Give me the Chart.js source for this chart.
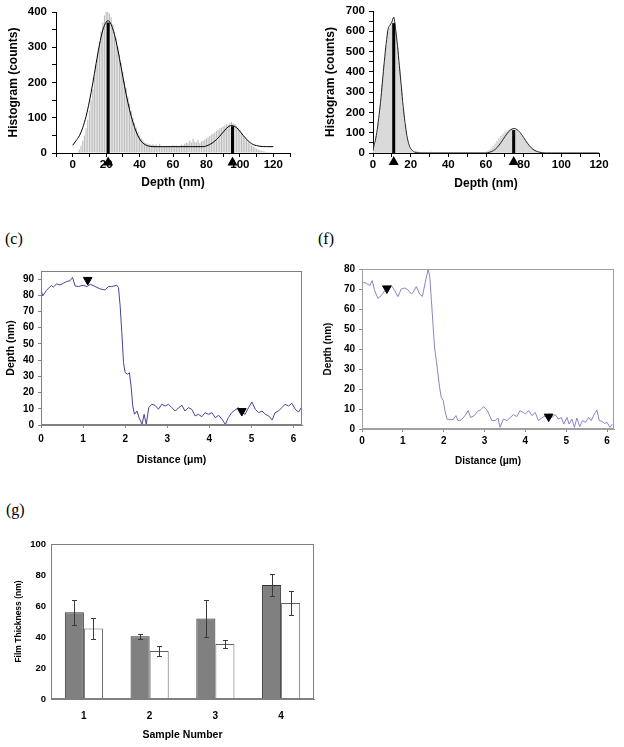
<!DOCTYPE html>
<html><head><meta charset="utf-8">
<script src="https://cdn.jsdelivr.net/npm/chart.js@4.4.0/dist/chart.umd.min.js"></script>
<style>
html,body{margin:0;padding:0;background:#fff;}
body{width:624px;height:747px;position:relative;overflow:hidden;}
.panel{position:absolute;}
.lbl{position:absolute;font-family:"Liberation Serif","DejaVu Serif",serif;font-size:16px;line-height:16px;color:#000;}
</style></head><body>
<div class="panel" style="left:0;top:0;width:312px;height:200px"><canvas id="ca"></canvas></div>
<div class="panel" style="left:312px;top:0;width:312px;height:200px"><canvas id="cb"></canvas></div>
<div class="lbl" style="left:5px;top:231px">(c)</div>
<div class="panel" style="left:0;top:230px;width:312px;height:240px"><canvas id="cc"></canvas></div>
<div class="lbl" style="left:318px;top:231px">(f)</div>
<div class="panel" style="left:312px;top:230px;width:312px;height:240px"><canvas id="cf"></canvas></div>
<div class="lbl" style="left:6px;top:502px">(g)</div>
<div class="panel" style="left:0;top:500px;width:340px;height:247px"><canvas id="cg"></canvas></div>
<script>
// ---------------- DATA ----------------
// Panel (a): histogram, 1 nm bins starting at 0 nm
const histAStart = 0, histABin = 1;
const histACounts = [0,0,0,2,10,20,35,50,70,95,120,150,180,215,250,285,315,345,370,390,400,405,395,385,365,345,325,300,280,255,230,205,185,160,140,120,100,85,72,60,50,42,36,30,28,26,24,22,25,21,24,20,26,19,18,20,17,19,18,20,22,19,21,18,20,24,22,26,30,28,35,30,40,32,30,36,28,33,35,38,42,45,48,52,55,58,62,66,70,72,75,78,82,80,85,88,84,82,78,72,66,58,50,44,38,32,27,22,18,15,12,10,8,6,5,4,3,2,2,1,0];
const fitAx = [0,2,4,6,8,10,12,14,16,18,20,21,22,24,26,28,30,32,34,36,38,40,42,44,46,50,60,70,78,80,82,84,86,88,90,92,94,95,96,98,100,102,104,106,108,110,112,116,120];
const fitAy = [22,35,49,72,104,147,198,254,307,349,371,375,373,352,316,268,216,166,123,88,60,40,28,22,19,18,18,18,18,20,24,30,38,48,59,70,77,78,77,72,62,50,39,30,24,21,19,18,18];
const peaksA = [21.2, 95.6];
const peakHeightsA = [370, 76];

// Panel (b): histogram, 1 nm bins starting at 0 nm
const histBStart = 0, histBBin = 1;
const histBCounts = [10,40,85,150,235,335,435,525,595,615,630,645,595,515,415,315,215,135,75,38,16,8,4,9,5,3,2,4,1,3,2,5,1,2,3,1,2,4,1,2,3,1,2,1,3,1,2,1,0,2,1,3,1,0,2,1,1,2,0,2,4,8,14,22,32,45,58,70,82,92,100,108,114,118,120,118,112,104,94,82,70,58,46,35,26,18,12,7,4,2,1,0,0,1,0,0,0,0,1,0,0,0,0,0,0,0,0,0,0,0,0,0,0,0,0,0,0,0,0,0,0];
const fitBx = [0,1,2,3,4,5,6,7,8,9,10,11,12,13,14,15,16,17,18,19,20,21,22,24,26,60,62,64,66,68,70,72,74,75,76,78,80,82,84,86,88,90,92,120];
const fitBy = [20,52,100,170,250,350,450,540,610,630,645,670,610,530,430,330,230,150,85,45,22,12,5,1,0,0,4,12,28,52,80,105,119,121,118,102,76,48,26,12,5,1,0,0];
const peaksB = [11.0, 74.7];
const peakHeightsB = [640, 113];

// Panel (c): line profile
const distC = [0,0.04,0.13,0.2,0.25,0.29,0.37,0.45,0.53,0.61,0.69,0.75,0.81,0.89,1.0,1.09,1.17,1.29,1.4,1.52,1.6,1.68,1.8,1.84,1.88,1.92,1.96,2.0,2.06,2.1,2.14,2.18,2.22,2.28,2.33,2.4,2.45,2.5,2.56,2.63,2.71,2.79,2.87,2.95,3.03,3.11,3.19,3.27,3.35,3.42,3.5,3.58,3.66,3.74,3.82,3.9,3.98,4.06,4.14,4.22,4.3,4.38,4.45,4.53,4.61,4.69,4.77,4.85,4.93,5.01,5.09,5.17,5.25,5.33,5.41,5.49,5.56,5.64,5.72,5.8,5.88,5.96,6.04,6.12,6.18];
const depthC = [83.7,79.6,83,85,86,85,87,86.4,87.4,88.5,89,91,85.8,85.4,86.2,85.4,86.8,85.4,84,83.3,85.4,85.4,86.2,84.8,73.5,57,38.5,32.3,31.3,32.3,24,11.7,6.6,8.6,4.5,0.4,6.6,0.4,10.7,12.8,12.1,9.7,12.8,11.7,12.8,10.7,8.6,10.7,12.1,8.6,10.7,9.7,5.6,6.6,5.1,7.6,6.6,7.6,4.5,6.0,3.5,0.4,4.5,7.6,9.3,10.7,7.6,6.6,10.7,14.2,9.7,7.6,8.6,6.6,5.6,3.1,7.6,8.6,10.7,12.8,11.7,13.4,9.7,8.0,10.7];
const markDistC = [1.11, 4.77];
const markDepthC = [89.5, 8.6];

// Panel (f): line profile
const distF = [0,0.1,0.19,0.25,0.31,0.39,0.47,0.56,0.64,0.72,0.8,0.88,0.96,1.05,1.13,1.21,1.25,1.33,1.41,1.48,1.54,1.62,1.66,1.7,1.74,1.78,1.82,1.86,1.9,1.94,1.99,2.03,2.08,2.15,2.23,2.3,2.35,2.43,2.52,2.6,2.66,2.75,2.83,2.91,2.98,3.07,3.18,3.26,3.33,3.38,3.46,3.55,3.63,3.71,3.79,3.87,3.95,4.0,4.08,4.16,4.24,4.32,4.4,4.49,4.57,4.65,4.73,4.81,4.88,4.94,5.02,5.07,5.14,5.2,5.26,5.33,5.4,5.47,5.55,5.61,5.69,5.75,5.81,5.88,5.94,6.0,6.07,6.13];
const depthF = [73.3,73,71.7,74.2,69.2,65.3,66.7,69.2,70.5,71.7,69.2,66.2,70,70.5,69.5,67.5,68.3,71.2,67.5,66.3,72.5,80,75.8,64.2,51.7,40,34.2,27.5,20.8,15.8,14.2,9.2,5,4.7,4.7,6.7,4.2,4.5,6.7,9.2,5.8,6.7,8.8,9.7,11.2,9.2,4.2,4.2,5.5,0.8,5,4.2,5.8,7.2,6.2,9.2,8.3,7.5,9.2,6.7,8.3,4.2,5.5,6.7,5.8,5.8,7.2,5,5.8,2.5,5.8,2.5,5,0.8,5.5,1.2,4.2,3.3,5.8,4.2,7.5,9.5,4.2,3.8,2.8,3.3,0.8,2.5];
const markDistF = [0.61, 4.57];
const markDepthF = [70.3, 6.2];

// Panel (g): film thickness
const samples = ['1','2','3','4'];
const thickGray = [56, 40.5, 52, 73.5];
const errGray = [8, 1.5, 12, 7];
const thickWhite = [45.5, 31, 35.5, 62];
const errWhite = [6.5, 3.5, 2.5, 7.5];

// ---------------- RENDER ----------------
Chart.defaults.font.family = '"Liberation Sans", Arial, sans-serif';
Chart.defaults.color = '#000';
Chart.defaults.animation = false;

const boxPlugin = {
  id: 'box',
  afterDatasetsDraw(chart, args, opts) {
    if (!opts || !opts.color) return;
    const a = chart.chartArea, ctx = chart.ctx;
    ctx.save();
    ctx.strokeStyle = opts.color; ctx.lineWidth = 1;
    ctx.strokeRect(Math.round(a.left) + 0.5, Math.round(a.top) + 0.5, Math.round(a.right - a.left) - 1, Math.round(a.bottom - a.top) - 1);
    ctx.restore();
  }
};
// peak markers below the axis (outside the chart area), placed via the chart's scales
const triPlugin = {
  id: 'tri',
  afterDraw(chart, args, opts) {
    if (!opts || !opts.xs) return;
    const ctx = chart.ctx, xS = chart.scales.x, yS = chart.scales.y;
    ctx.save(); ctx.fillStyle = '#000';
    opts.xs.forEach(v => {
      const x = xS.getPixelForValue(v), y = yS.getPixelForValue(opts.y);
      ctx.beginPath();
      ctx.moveTo(x, y - 5); ctx.lineTo(x + 5, y + 4); ctx.lineTo(x - 5, y + 4); ctx.closePath();
      ctx.fill();
    });
    ctx.restore();
  }
};
const errPlugin = {
  id: 'errbars',
  afterDatasetsDraw(chart) {
    const ctx = chart.ctx, yS = chart.scales.y;
    chart.data.datasets.forEach((ds, di) => {
      if (!ds.errors) return;
      const meta = chart.getDatasetMeta(di);
      meta.data.forEach((bar, i) => {
        const v = ds.data[i], e = ds.errors[i];
        const yt = Math.round(yS.getPixelForValue(v + e)) + 0.5, yb = Math.round(yS.getPixelForValue(v - e)) + 0.5;
        const x = Math.round(bar.x) + 0.5;
        ctx.save(); ctx.strokeStyle = '#3a3a3a'; ctx.lineWidth = 1;
        ctx.beginPath();
        ctx.moveTo(x, yt); ctx.lineTo(x, yb);
        ctx.moveTo(x - 2.5, yt); ctx.lineTo(x + 2.5, yt);
        ctx.moveTo(x - 2.5, yb); ctx.lineTo(x + 2.5, yb);
        ctx.stroke(); ctx.restore();
      });
    });
  }
};

function histChart(id, cfg) {
  const ds = [];
  ds.push({ type: 'bar', data: cfg.counts.map((c, i) => ({ x: cfg.start + i * cfg.bin, y: c })),
    backgroundColor: cfg.barColor, borderWidth: 0, barPercentage: cfg.barPct, categoryPercentage: 1, order: 5 });
  ds.push({ type: 'line', data: cfg.fitX.map((x, i) => ({ x, y: cfg.fitY[i] })), borderColor: cfg.fitColor,
    borderWidth: 1, pointRadius: 0, cubicInterpolationMode: 'monotone', order: 4 });
  cfg.peaks.forEach((p, k) => {
    ds.push({ type: 'line', data: [{ x: p, y: 0 }, { x: p, y: cfg.peakH[k] }], borderColor: '#000', borderWidth: 3,
      pointRadius: 0, order: 3 });
  });
  return new Chart(id, {
    type: 'bar',
    data: { datasets: ds },
    options: {
      responsive: true, maintainAspectRatio: false,
      layout: { padding: cfg.pad },
      plugins: { legend: { display: false }, tooltip: { enabled: false }, tri: { xs: cfg.peaks, y: cfg.triY } },
      scales: {
        x: { type: 'linear', min: cfg.xMin, max: cfg.xMax, offset: false,
          afterFit: s => { s.height = 40; },
          grid: { drawOnChartArea: false, drawTicks: true, tickLength: 4, color: '#000', offset: false },
          border: { color: '#000', width: 1 },
          ticks: { stepSize: 10, autoSkip: false, maxRotation: 0, padding: 1, color: '#000',
            font: { size: 11.5, weight: 'bold' },
            callback: v => (v >= 0 && v <= 120 && v % 20 === 0) ? String(v) : '' },
          title: { display: true, text: 'Depth (nm)', color: '#000', font: { size: 12, weight: 'bold' },
            padding: { top: 0, bottom: cfg.xTitlePad } } },
        y: { min: 0, max: cfg.yMax,
          afterFit: s => { s.width = cfg.yW; },
          grid: { drawOnChartArea: false, drawTicks: true, tickLength: 4, color: '#000' },
          border: { color: '#000', width: 1 },
          ticks: { stepSize: 50, autoSkip: false, padding: cfg.yTickPad, color: '#000', font: { size: 11.5, weight: 'bold' },
            callback: v => (v % 100 === 0) ? String(v) : '' },
          title: { display: true, text: 'Histogram (counts)', color: '#000', font: { size: 12, weight: 'bold' },
            padding: { top: cfg.yTitlePad, bottom: 0 } } }
      }
    },
    plugins: [triPlugin]
  });
}

histChart('ca', { counts: histACounts, start: histAStart, bin: histABin, barColor: '#bdbdbd', barPct: 0.7,
  fitX: fitAx, fitY: fitAy, fitColor: '#000', peaks: peaksA, peakH: peakHeightsA, triY: -24,
  pad: { left: 0, top: 12, right: 22, bottom: 7 }, xMin: -10, xMax: 130, yMax: 400, yW: 56,
  xTitlePad: 3, yTitlePad: 6, yTickPad: 5 });

histChart('cb', { counts: histBCounts, start: histBStart, bin: histBBin, barColor: '#dadada', barPct: 1,
  fitX: fitBx, fitY: fitBy, fitColor: '#222', peaks: peaksB, peakH: peakHeightsB, triY: -40,
  pad: { left: 0, top: 11, right: 25, bottom: 7 }, xMin: 0, xMax: 120, yMax: 700, yW: 61,
  xTitlePad: 2, yTitlePad: 11, yTickPad: 4 });

function profileChart(id, cfg) {
  return new Chart(id, {
    type: 'line',
    data: { datasets: [
      { data: cfg.x.map((x, i) => ({ x, y: cfg.y[i] })), borderColor: cfg.lineColor, borderWidth: 1, pointRadius: 0, tension: 0, order: 2 },
      { showLine: false, data: cfg.mx.map((x, i) => ({ x, y: cfg.my[i] })), pointStyle: 'triangle', rotation: 180,
        pointRadius: 5, pointBackgroundColor: '#000', pointBorderColor: '#000', clip: false, order: 1 }
    ] },
    options: {
      responsive: true, maintainAspectRatio: false,
      layout: { padding: cfg.pad },
      plugins: { legend: { display: false }, tooltip: { enabled: false }, box: { color: cfg.boxColor } },
      scales: {
        x: { type: 'linear', min: 0, max: cfg.xMax,
          afterFit: s => { s.height = cfg.xH; },
          grid: { drawOnChartArea: false, drawTicks: true, tickLength: 3, color: '#888' },
          border: { color: cfg.boxColor, width: 1 },
          ticks: { stepSize: 1, includeBounds: false, autoSkip: false, maxRotation: 0, padding: cfg.xTickPad,
            font: { size: 10, weight: 'bold' }, color: '#000' },
          title: { display: true, text: 'Distance (μm)', color: '#000', font: { size: cfg.titleSize, weight: 'bold' },
            padding: { top: 0, bottom: cfg.xTitlePad } } },
        y: { min: 0, max: cfg.yMax,
          afterFit: s => { s.width = cfg.yW; },
          grid: { drawOnChartArea: false, drawTicks: true, tickLength: 3, color: '#888' },
          border: { color: cfg.boxColor, width: 1 },
          ticks: { stepSize: 10, includeBounds: false, autoSkip: false, padding: cfg.yTickPad,
            font: { size: 10, weight: 'bold' }, color: '#000' },
          title: { display: true, text: 'Depth (nm)', color: '#000', font: { size: cfg.titleSize, weight: 'bold' },
            padding: { top: cfg.yTitlePad, bottom: 0 } } }
      }
    },
    plugins: [boxPlugin]
  });
}

profileChart('cc', { x: distC, y: depthC, mx: markDistC, my: markDepthC, lineColor: '#45459a', boxColor: '#808080',
  pad: { left: 0, top: 41, right: 10, bottom: 0 }, xH: 45, yW: 41, xMax: 6.2, yMax: 95,
  xTickPad: 5, yTickPad: 4, xTitlePad: 4, yTitlePad: 5, titleSize: 10.5 });

profileChart('cf', { x: distF, y: depthF, mx: markDistF, my: markDepthF, lineColor: '#8787c4', boxColor: '#a0a0a0',
  pad: { left: 0, top: 39, right: 10, bottom: 0 }, xH: 41, yW: 50, xMax: 6.17, yMax: 80,
  xTickPad: 3, yTickPad: 4, xTitlePad: 3, yTitlePad: 10, titleSize: 10 });

new Chart('cg', {
  type: 'bar',
  data: { labels: samples, datasets: [
    { data: thickGray, errors: errGray, backgroundColor: '#808080', borderColor: '#303030', borderWidth: 1,
      barPercentage: 1, categoryPercentage: 0.58 },
    { data: thickWhite, errors: errWhite, backgroundColor: '#ffffff', borderColor: '#606060', borderWidth: 1,
      barPercentage: 1, categoryPercentage: 0.58 }
  ] },
  options: {
    responsive: true, maintainAspectRatio: false,
    layout: { padding: { left: 0, top: 44, right: 26, bottom: 0 } },
    plugins: { legend: { display: false }, tooltip: { enabled: false }, box: { color: '#808080' } },
    scales: {
      x: { afterFit: s => { s.height = 48; },
        grid: { drawOnChartArea: false, drawTicks: false },
        border: { color: '#808080', width: 1 },
        ticks: { padding: 11, font: { size: 10, weight: 'bold' }, color: '#000' },
        title: { display: true, text: 'Sample Number', color: '#000', font: { size: 10.5, weight: 'bold' },
          padding: { top: 0, bottom: 6 } } },
      y: { min: 0, max: 100,
        afterFit: s => { s.width = 51; },
        grid: { drawOnChartArea: false, drawTicks: false },
        border: { color: '#808080', width: 1 },
        ticks: { stepSize: 20, padding: 5, font: { size: 9.5, weight: 'bold' }, color: '#000' },
        title: { display: true, text: 'Film Thickness (nm)', color: '#000', font: { size: 8.5, weight: 'bold' },
          padding: { top: 14, bottom: 0 } } }
    }
  },
  plugins: [boxPlugin, errPlugin]
});
</script>
</body></html>
